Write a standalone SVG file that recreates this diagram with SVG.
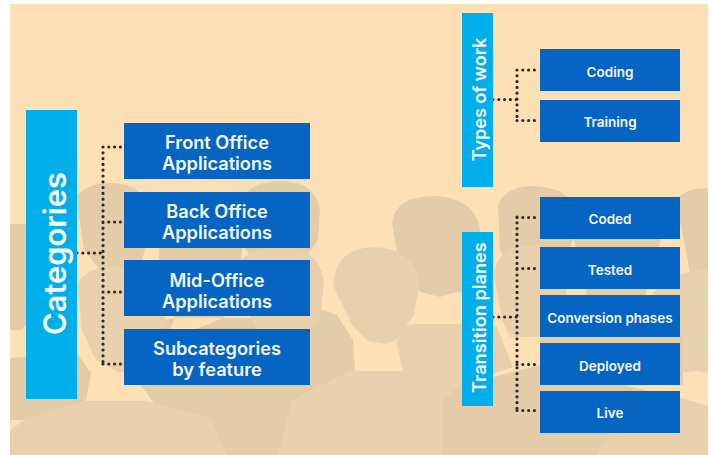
<svg xmlns="http://www.w3.org/2000/svg" width="711" height="455" viewBox="0 0 711 455">
<style>
.a{fill:#e5cca8}.b{fill:#ead1ae}
.cat{fill:#00aeea}.box{fill:#0665c3}
text{font-family:"Inter","Open Sans","Liberation Sans",sans-serif;font-weight:600;fill:#f4f8fc;text-anchor:middle}
.l{font-size:18.200px}.s{font-size:13.500px}
.dot{fill:none;stroke:#2e2a28;stroke-width:3.200;stroke-linecap:round;stroke-dasharray:0 5.800}
</style>
<rect width="711" height="455" fill="#ffffff"/>
<g id="background">
<rect x="10" y="4" width="698" height="451" fill="#fde0b6"/>
<path class="a" d="M10 224H28L40 300 28 322 22 330H10Z"/>
<path class="a" d="M76 196Q90 182 112 183 138 184 144 200L147 240 140 270 120 290 100 270 84 250Z"/>
<path class="a" d="M158 240H243L240 270 225 300 223 318H175L160 270Z"/>
<path class="a" d="M242 200Q250 181 282 181 316 182 320 210L318 240 300 265 290 275 262 270 246 250Z"/>
<path class="a" d="M124 320H163L175 318 163 345 141 385 124 380Z"/>
<path class="a" d="M223 318H270L300 320 320 309 337 315 353 340 355 371 351 371 292 400 270 385 141 385 170 340Z"/>
<path class="b" d="M240 262Q250 247 285 247 322 250 324 285L320 320 300 340 260 335 246 310Z"/>
<path class="a" d="M10 358L77 353 91 373 86 400 60 420H10Z"/>
<path class="b" d="M77 285Q84 266 120 266 160 268 166 300L163 345 140 372 118 372 96 360 82 330Z"/>
<path class="a" d="M392 222Q396 196 435 196 478 198 481 235L476 265 462 292 452 293 440 297 420 292 400 270Z"/>
<path class="a" d="M498 205Q505 186 535 186 565 188 573 205L573 240 560 270H510L500 250Z"/>
<path class="a" d="M573 235H662L645 295 625 335H590L587 295Z"/>
<path class="a" d="M676 200Q685 188 708 188V272H690Z"/>
<path class="b" d="M653 295Q665 272 708 270V373L697 371 680 373 640 340Z"/>
<path class="b" d="M397 345Q397 325 415 324H480L497 327 513 367 458 386 403 371Z"/>
<path class="b" d="M494 275Q498 246 530 245 560 246 570 270L560 335 545 337H510L502 320Z"/>
<path class="a" d="M540 337H683V385H540Z"/>
<path class="b" d="M333 285Q336 248 373 247 415 248 419 285L414 315 396 340 385 344 368 341 352 325Z"/>
<path class="a" d="M141 385H300L340 455H190Z"/>
<path class="a" d="M443 455V400L458 386 540 365 600 380 680 398 708 406V455Z"/>
<path class="b" d="M597 455L620 417 680 400 708 406V455Z"/>
<path class="b" d="M278 455L292 400 351 371H403L458 386 443 400V455Z"/>
<path class="b" d="M10 455V430L27 418 87 401H146L210 418 227 455Z"/>
</g>
<g id="connectors" class="dot">
<path d="M77 253H103M103 147V364M103 147H124M103 222H124M103 292H124M103 364H124"/>
<path d="M493 99.500H517M517 70V120.500M517 70H540M517 120.500H540"/>
<path d="M493 317H517M517 217V410M517 217.500H540M517 268.500H540M517 364.500H540M517 410.500H540"/>
</g>
<g id="categories"><rect class="cat" x="26" y="110" width="51" height="289"/><text font-size="30.800" transform="translate(66 253.500) rotate(-90)">Categories</text></g>
<g id="types-of-work"><rect class="cat" x="462" y="13" width="31" height="174"/><text font-size="18" transform="translate(486 99.500) rotate(-90)">Types of work</text></g>
<g id="transition-planes"><rect class="cat" x="462" y="232" width="31" height="174"/><text font-size="18.200" transform="translate(486 317.500) rotate(-90)">Transition planes</text></g>
<g id="front-office"><rect class="box" x="124" y="123" width="186" height="56"/><text class="l" x="217" y="149">Front Office</text><text class="l" x="217" y="170">Applications</text></g>
<g id="back-office"><rect class="box" x="124" y="192" width="186" height="56"/><text class="l" x="217" y="218">Back Office</text><text class="l" x="217" y="239">Applications</text></g>
<g id="mid-office"><rect class="box" x="124" y="260" width="186" height="56"/><text class="l" x="217" y="287">Mid-Office</text><text class="l" x="217" y="308">Applications</text></g>
<g id="subcategories"><rect class="box" x="124" y="329" width="186" height="56"/><text class="l" x="217" y="355">Subcategories</text><text class="l" x="217" y="376">by feature</text></g>
<g id="coding"><rect class="box" x="540" y="49" width="140" height="42"/><text class="s" x="610" y="77">Coding</text></g>
<g id="training"><rect class="box" x="540" y="100" width="140" height="42"/><text class="s" x="610" y="127">Training</text></g>
<g id="coded"><rect class="box" x="540" y="197" width="140" height="42"/><text class="s" x="610" y="224">Coded</text></g>
<g id="tested"><rect class="box" x="540" y="247" width="140" height="42"/><text class="s" x="610" y="275">Tested</text></g>
<g id="conversion-phases"><rect class="box" x="540" y="295" width="140" height="42"/><text class="s" x="610" y="323">Conversion phases</text></g>
<g id="deployed"><rect class="box" x="540" y="343" width="140" height="42"/><text class="s" x="610" y="371">Deployed</text></g>
<g id="live"><rect class="box" x="540" y="391" width="140" height="42"/><text class="s" x="610" y="418">Live</text></g>
</svg>
